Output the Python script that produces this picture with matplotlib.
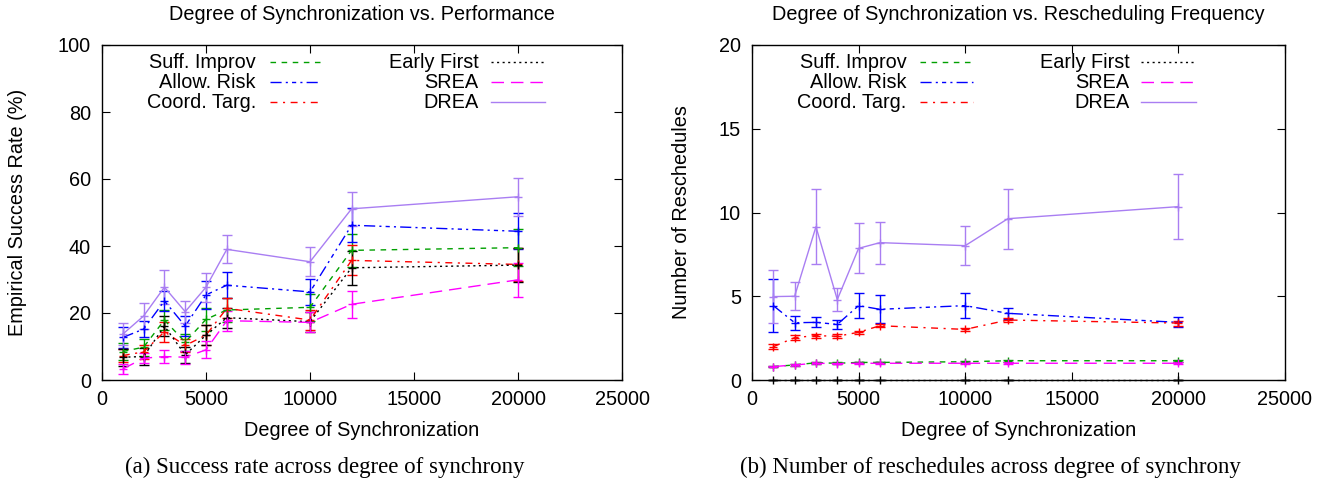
import matplotlib

matplotlib.use("Agg")
import matplotlib.pyplot as plt
from matplotlib.lines import Line2D

plt.rcParams.update(
    {
        "font.family": ["Liberation Sans", "DejaVu Sans"],
        "font.size": 14.3,
        "axes.linewidth": 1.0,
    }
)

# degree of synchronization (x values shared by both panels)
sync_degree = [1000, 2000, 3000, 4000, 5000, 6000, 10000, 12000, 20000]

# panel (a): empirical success rate (%)
succ_suff = [8.5, 9.8, 17.9, 11.3, 18.1, 20.9, 21.7, 38.7, 39.5]
succ_suff_err = [2.5, 2.5, 3.0, 2.5, 3.5, 3.5, 4.0, 5.0, 5.5]
succ_risk = [12.7, 15.2, 23.6, 16.1, 25.4, 28.3, 26.3, 46.2, 44.4]
succ_risk_err = [3.0, 2.5, 3.0, 3.0, 4.3, 3.9, 3.8, 5.0, 5.4]
succ_coord = [7.3, 8.4, 14.4, 10.3, 13.4, 21.4, 17.9, 35.7, 34.5]
succ_coord_err = [2.0, 2.0, 3.0, 2.0, 3.0, 3.0, 3.0, 4.5, 5.0]
succ_early = [6.8, 7.0, 16.1, 7.5, 13.4, 18.6, 17.4, 33.5, 34.3]
succ_early_err = [2.5, 2.5, 3.0, 2.5, 3.0, 3.0, 3.0, 5.0, 5.0]
succ_srea = [3.3, 6.5, 7.0, 6.8, 9.0, 17.7, 17.2, 22.6, 29.9]
succ_srea_err = [1.5, 1.5, 2.0, 2.0, 2.5, 3.0, 3.0, 4.0, 5.0]
succ_drea = [13.7, 19.1, 27.7, 20.4, 27.7, 39.0, 35.3, 51.1, 54.7]
succ_drea_err = [3.2, 3.8, 5.0, 3.3, 4.3, 4.2, 4.3, 5.0, 5.6]

# panel (b): number of reschedules
resch_suff = [0.8, 0.9, 1.03, 1.0, 1.05, 1.05, 1.09, 1.15, 1.15]
resch_suff_err = [0.05, 0.05, 0.05, 0.05, 0.05, 0.05, 0.05, 0.05, 0.05]
resch_risk = [4.44, 3.42, 3.44, 3.32, 4.44, 4.22, 4.44, 3.98, 3.44]
resch_risk_err = [1.6, 0.43, 0.3, 0.26, 0.75, 0.83, 0.75, 0.33, 0.3]
resch_coord = [1.99, 2.53, 2.65, 2.61, 2.85, 3.24, 3.02, 3.58, 3.4]
resch_coord_err = [0.15, 0.15, 0.12, 0.12, 0.1, 0.1, 0.1, 0.1, 0.15]
resch_early = [0, 0, 0, 0, 0, 0, 0, 0, 0]
resch_early_err = [0, 0, 0, 0, 0, 0, 0, 0, 0]
resch_srea = [0.8, 0.9, 1.0, 0.98, 1.0, 1.0, 1.0, 1.0, 1.0]
resch_srea_err = [0.05, 0.05, 0.05, 0.05, 0.05, 0.05, 0.05, 0.05, 0.05]
resch_drea = [4.98, 5.0, 9.15, 4.8, 7.86, 8.2, 8.02, 9.63, 10.35]
resch_drea_err = [1.6, 0.83, 2.23, 0.7, 1.5, 1.25, 1.17, 1.8, 1.93]

SERIES = [
    # key, label, colour, dash pattern, legend column, legend row
    ("suff", "Suff. Improv", "#00a000", (0, (4, 4)), 0, 0),
    ("risk", "Allow. Risk", "#0000ff", (0, (8, 3, 1.5, 3, 3, 3, 1.5, 3)), 0, 1),
    ("coord", "Coord. Targ.", "#ff0000", (0, (5, 4, 1.5, 4)), 0, 2),
    ("early", "Early First", "#000000", (0, (1.5, 2.5)), 1, 0),
    ("srea", "SREA", "#ff00ff", (0, (9, 5)), 1, 1),
    ("drea", "DREA", "#a97ef2", "-", 1, 2),
]

SUCCESS = {
    "suff": (succ_suff, succ_suff_err),
    "risk": (succ_risk, succ_risk_err),
    "coord": (succ_coord, succ_coord_err),
    "early": (succ_early, succ_early_err),
    "srea": (succ_srea, succ_srea_err),
    "drea": (succ_drea, succ_drea_err),
}

RESCHEDULES = {
    "suff": (resch_suff, resch_suff_err),
    "risk": (resch_risk, resch_risk_err),
    "coord": (resch_coord, resch_coord_err),
    "early": (resch_early, resch_early_err),
    "srea": (resch_srea, resch_srea_err),
    "drea": (resch_drea, resch_drea_err),
}

W, H = 1328, 487


def draw_panel(ax, data, ymax, ystep, legend_cols):
    for key, label, color, dash, col, row in SERIES:
        values, errs = data[key]
        ax.errorbar(
            sync_degree,
            values,
            yerr=errs,
            color=color,
            linestyle=dash,
            linewidth=1.0,
            marker="+",
            markersize=6,
            elinewidth=1.0,
            capsize=3.5,
            capthick=1.0,
            clip_on=False,
            zorder=3,
        )
        # gnuplot-style key: right aligned text then line sample
        text_x, line_x0, line_x1 = legend_cols[col]
        y = 0.949 - row * 0.06
        ax.text(text_x, y, label, transform=ax.transAxes, ha="right", va="center")
        ax.add_line(
            Line2D(
                [line_x0, line_x1],
                [y, y],
                transform=ax.transAxes,
                color=color,
                linestyle=dash,
                linewidth=1.0,
            )
        )

    ax.set_xlim(0, 25000)
    ax.set_ylim(0, ymax)
    ax.set_xticks(range(0, 25001, 5000))
    ax.set_yticks(range(0, ymax + 1, ystep))
    ax.tick_params(direction="in", length=6, top=True, right=True, pad=7)
    ax.tick_params(axis="y", pad=8)


fig = plt.figure(figsize=(W / 100, H / 100), dpi=100)
fig.patch.set_facecolor("white")

ax_a = fig.add_axes([102 / W, 1 - 380 / H, 520 / W, 335 / H])
ax_b = fig.add_axes([752 / W, 1 - 380 / H, 533 / W, 335 / H])

draw_panel(
    ax_a,
    SUCCESS,
    100,
    20,
    [(0.296, 0.323, 0.42), (0.724, 0.748, 0.851)],
)
draw_panel(
    ax_b,
    RESCHEDULES,
    20,
    5,
    [(0.29, 0.315, 0.415), (0.708, 0.73, 0.833)],
)

for ax, title, ylabel, caption, cap_x, ylab_x in [
    (ax_a, "Degree of Synchronization vs. Performance", "Empirical Success Rate (%)",
     "(a) Success rate across degree of synchrony", 325, 18),
    (ax_b, "Degree of Synchronization vs. Rescheduling Frequency", "Number of Reschedules",
     "(b) Number of reschedules across degree of synchrony", 990, 682),
]:
    box = ax.get_position()
    cx = (box.x0 + box.x1) / 2
    fig.text(cx, 1 - 15 / H, title, ha="center", va="center")
    fig.text(cx, 1 - 430 / H, "Degree of Synchronization", ha="center", va="center")
    fig.text(ylab_x / W, (box.y0 + box.y1) / 2, ylabel, rotation=90, ha="center", va="center")
    fig.text(
        cap_x / W,
        1 - 467 / H,
        caption,
        ha="center",
        va="center",
        fontsize=16.5,
        family=["Liberation Serif", "DejaVu Serif"],
    )

fig.savefig("out.png", dpi=100)
